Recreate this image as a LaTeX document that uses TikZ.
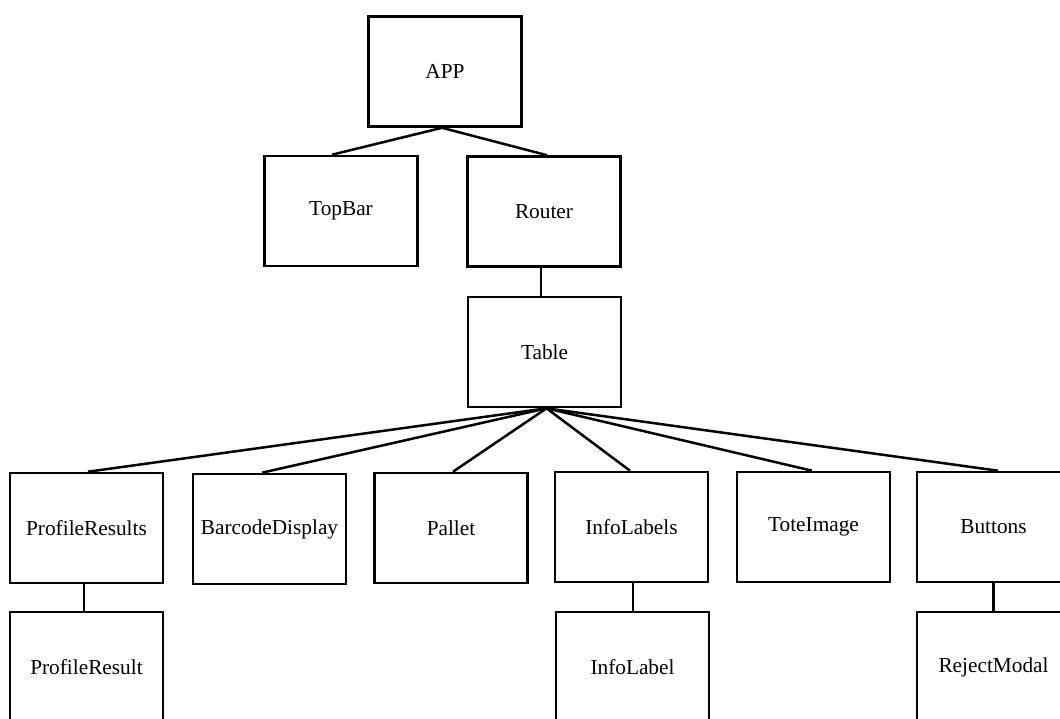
\documentclass[tikz,border=0pt]{standalone}
\usepackage{fontspec}
\setmainfont{Liberation Serif}
\begin{document}
\begin{tikzpicture}[x=1pt,y=-1pt,
  box/.style={draw=black,line width=2.6pt,fill=white,rectangle,minimum width=153pt,minimum height=110pt,inner sep=0pt,font=\fontsize{21.3}{25}\selectfont},
  conn/.style={draw=black,line width=2.5pt}]
\useasboundingbox (0,0) rectangle (1060,718);
\clip (0,0) rectangle (1060,718);
\fill[white] (0,0) rectangle (1060,718);
% nodes
\node[box] (APP) at (445,71.5) {APP};
\node[box] (TopBar) at (341,211) {TopBar};
\node[box] (Router) at (544,211.5) {Router};
\node[box] (Table) at (544.5,352) {Table};
\node[box] (ProfileResults) at (86.5,528) {ProfileResults};
\node[box] (BarcodeDisplay) at (269.5,529) {BarcodeDisplay};
\node[box] (Pallet) at (451,528) {Pallet};
\node[box] (InfoLabels) at (631.5,527) {InfoLabels};
\node[box] (ToteImage) at (813.5,527) {ToteImage};
\node[box] (Buttons) at (993.5,527) {Buttons};
\node[box] (ProfileResult) at (86.5,667) {ProfileResult};
\node[box] (InfoLabel) at (632.5,667) {InfoLabel};
\node[box] (RejectModal) at (993.5,667) {RejectModal};
% connectors
\draw[conn] ([xshift=-3pt]APP.south) -- ([xshift=-9pt]TopBar.north);
\draw[conn] ([xshift=-3pt]APP.south) -- ([xshift=3pt]Router.north);
\draw[conn] ([xshift=-3pt]Router.south) -- ([xshift=-3.5pt]Table.north);
\draw[conn] ([xshift=2pt]Table.south) -- ([xshift=1.5pt]ProfileResults.north);
\draw[conn] ([xshift=2pt]Table.south) -- ([xshift=-7.5pt]BarcodeDisplay.north);
\draw[conn] ([xshift=2pt]Table.south) -- ([xshift=2pt]Pallet.north);
\draw[conn] ([xshift=2pt]Table.south) -- ([xshift=-1.5pt]InfoLabels.north);
\draw[conn] ([xshift=2pt]Table.south) -- ([xshift=-1.5pt]ToteImage.north);
\draw[conn] ([xshift=2pt]Table.south) -- ([xshift=4.5pt]Buttons.north);
\draw[conn] ([xshift=-2.5pt]ProfileResults.south) -- ([xshift=-2.5pt]ProfileResult.north);
\draw[conn] ([xshift=1.5pt]InfoLabels.south) -- ([xshift=0.5pt]InfoLabel.north);
\draw[conn] (Buttons.south) -- (RejectModal.north);
\end{tikzpicture}
\end{document}
